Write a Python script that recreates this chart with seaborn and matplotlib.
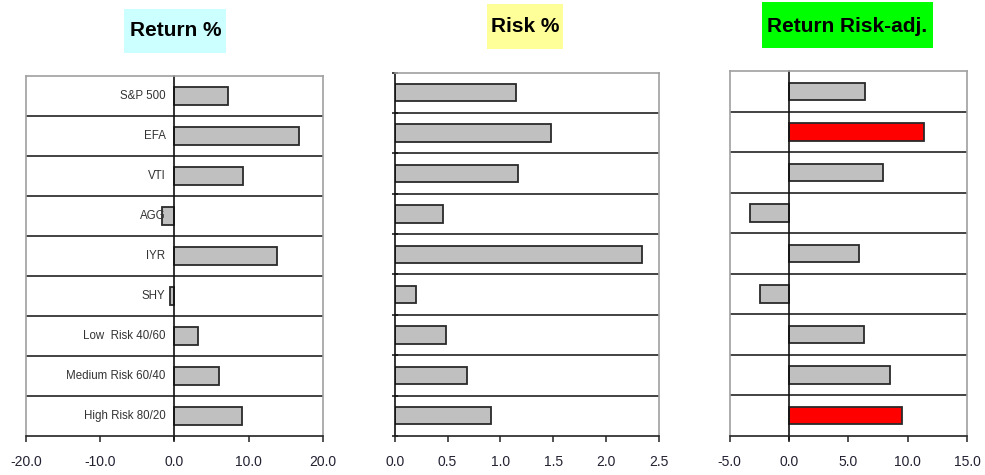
import matplotlib
matplotlib.use("Agg")
import matplotlib.pyplot as plt
import seaborn as sns
import pandas as pd
from matplotlib.patches import Rectangle
from matplotlib.ticker import FixedLocator

categories = ["S&P 500", "EFA", "VTI", "AGG", "IYR", "SHY",
              "Low  Risk 40/60", "Medium Risk 60/40", "High Risk 80/20"]
return_pct = [7.2, 16.8, 9.25, -1.65, 13.8, -0.55, 3.1, 5.95, 9.05]
risk_pct = [1.15, 1.48, 1.165, 0.455, 2.34, 0.205, 0.49, 0.68, 0.91]
return_risk_adj = [6.43, 11.38, 7.9, -3.29, 5.87, -2.47, 6.29, 8.54, 9.55]
highlight = ["EFA", "High Risk 80/20"]

titles = ["Return %", "Risk %", "Return Risk-adj."]
title_colors = ["#ccffff", "#ffff99", "#00ff00"]
xlims = [(-20, 20), (0, 2.5), (-5, 15)]
xticks = [[-20, -10, 0, 10, 20], [0, 0.5, 1.0, 1.5, 2.0, 2.5], [-5, 0, 5, 10, 15]]

sns.set_theme(style="white")
plt.rcParams["font.family"] = ["Liberation Sans", "DejaVu Sans"]

W, H = 985, 475
fig = plt.figure(figsize=(W / 100, H / 100), dpi=100)

# axes boxes in pixels: left, right, top, bottom
boxes = [(26, 323, 76, 436), (394.7, 658.7, 72.5, 436), (729.7, 967, 71, 436)]
axes = []
for (l, r, t, b) in boxes:
    axes.append(fig.add_axes([l / W, 1 - b / H, (r - l) / W, (b - t) / H]))

gray = "#c0c0c0"
series = [return_pct, risk_pct, return_risk_adj]
for k, ax in enumerate(axes):
    df = pd.DataFrame({"cat": categories, "val": series[k]})
    if k == 2:
        pal = {c: ("#ff0000" if c in highlight else gray) for c in categories}
    else:
        pal = {c: gray for c in categories}
    sns.barplot(data=df, x="val", y="cat", hue="cat", palette=pal, legend=False,
                orient="h", width=0.43, edgecolor="#2a2a2a", linewidth=1.3,
                saturation=1, ax=ax)
    ax.set_xlim(*xlims[k])
    ax.set_ylim(len(categories) - 0.5, -0.5)
    ax.set_xlabel("")
    ax.set_ylabel("")
    ax.set_yticks([])
    for i in range(1, len(categories)):
        ax.axhline(i - 0.5, color="#222222", lw=1.2, zorder=0.5)
    for s in ["left", "top", "right"]:
        ax.spines[s].set_color("#a0a0a0")
        ax.spines[s].set_linewidth(1.2)
    ax.spines["bottom"].set_color("#222222")
    ax.spines["bottom"].set_linewidth(1.2)
    ax.set_xticks(xticks[k])
    ax.set_xticklabels([f"{v:.1f}" for v in xticks[k]], fontsize=10, color="#222233")
    ax.tick_params(axis="x", bottom=True, direction="out", length=4, width=1.1,
                   color="#222222", pad=10)
    if k != 1:
        ax.axvline(0, color="#111111", lw=1.2, zorder=1, clip_on=False,
                   ymin=-0.012, ymax=1.0)
    else:
        ax.spines["left"].set_color("#111111")
        ax.yaxis.set_minor_locator(FixedLocator([i - 0.5 for i in range(len(categories) + 1)]))
        ax.tick_params(axis="y", which="minor", left=True, direction="inout",
                       length=5, width=1.1, color="#111111")
    if k == 0:
        for i, c in enumerate(categories):
            ax.annotate(c, xy=(0, i), xytext=(-6.5, 0), textcoords="offset points",
                        ha="right", va="center", fontsize=8.3, color="#333333")

# title boxes (pixels: left, right, top, bottom, text center x, text center y)
tboxes = [(124, 226, 9, 53, 176, 30), (487, 563, 4, 49, 525, 26), (762, 933, 2, 48, 847.5, 26)]
for (l, r, t, b, cx, cy), txt, col in zip(tboxes, titles, title_colors):
    fig.patches.append(Rectangle((l / W, 1 - b / H), (r - l) / W, (b - t) / H,
                                 transform=fig.transFigure, facecolor=col,
                                 edgecolor="none", zorder=0))
    fig.text(cx / W, 1 - cy / H, txt, ha="center", va="center", fontsize=15,
             fontweight="bold", color="#000000")

fig.savefig("out.png", dpi=100)
